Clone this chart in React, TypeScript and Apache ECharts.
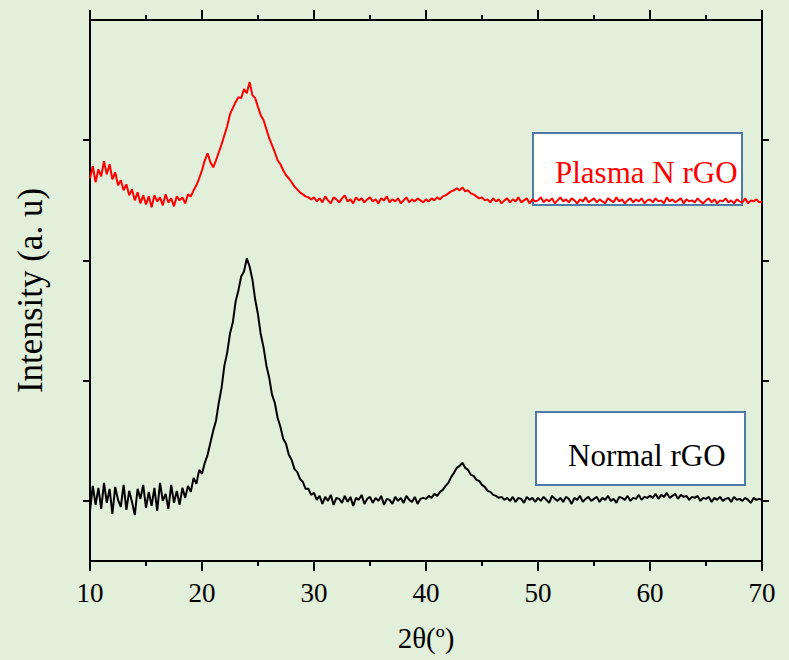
import { useEffect, useRef } from "react";
import * as echarts from "echarts";

// Diffraction scans sampled every 0.25° of 2θ, starting at 10°
const START_2THETA = 10;
const STEP_2THETA = 0.25;

// Normal rGO (counts, arbitrary units)
const normalRGO = [
  -10, 15, -4, 13, -8, 18, -2, 12, -13, 14, 1, -6, 16, -9, 10, -1, -14, 12, 2, 16,
  -7, 9, -5, 13, -10, 18, 0, 7, -8, 16, -2, 10, -4, 13, 3, 15, 9, 23, 17, 31,
  27, 38, 46, 58, 70, 80, 98, 113, 135, 148, 167, 178, 199, 210, 224, 229, 242, 234, 221, 201,
  186, 166, 153, 135, 123, 106, 98, 83, 74, 62, 57, 46, 41, 32, 29, 22, 19, 12, 12, 6,
  8, 1, 5, -3, 4, 0, 6, -4, 3, 2, -2, 5, -1, 4, -5, 3, 1, 6, -3, 2,
  4, -2, 3, 0, 5, -4, 2, 1, -3, 4, 0, 3, -2, 5, 1, -1, 4, -3, 2, 3,
  2, 5, 3, 7, 5, 9, 11, 15, 18, 24, 28, 33, 35, 38, 33, 31, 26, 25, 21, 20,
  16, 14, 10, 9, 6, 5, 3, 4, 1, 3, 0, 4, -1, 3, 2, -2, 4, 1, 3, -1,
  3, 0, 4, 1, -2, 5, 2, 0, 3, -1, 4, 2, -3, 3, 1, 5, -1, 2, 4, 0,
  2, 4, -1, 3, 1, 5, 0, 2, -2, 4, 3, 1, 5, 0, 3, 2, 6, 1, 4, 3,
  5, 3, 7, 2, 6, 4, 8, 3, 5, 7, 2, 6, 4, 5, 1, 4, 3, 5, 0, 3,
  2, 4, -1, 3, 1, 4, 0, 2, 3, -1, 4, 1, 2, 0, 3, 1, -2, 3, 1, 2,
  1,
];

// Plasma N rGO (counts, arbitrary units, stacked above the normal scan)
const plasmaNRGO = [
  322, 334, 318, 331, 324, 339, 326, 336, 321, 328, 315, 320, 310, 316, 305, 311, 300, 308, 297, 305,
  296, 304, 293, 305, 299, 303, 295, 306, 298, 302, 294, 304, 300, 303, 297, 306, 304, 310, 315, 322,
  330, 340, 347, 338, 333, 340, 348, 356, 365, 374, 386, 392, 398, 403, 402, 411, 407, 418, 405, 402,
  393, 385, 380, 371, 362, 355, 348, 340, 336, 330, 325, 322, 318, 314, 311, 308, 306, 304, 303, 301,
  303, 299, 302, 298, 304, 300, 297, 303, 301, 298, 302, 305, 299, 301, 297, 303, 300, 302, 298, 301,
  303, 299, 301, 297, 302, 300, 304, 298, 301, 299, 302, 297, 300, 303, 298, 301, 299, 302, 300, 298,
  301, 299, 302, 300, 303, 301, 304, 305, 307, 309, 310, 312, 310, 313, 309, 310, 307, 306, 304, 302,
  303, 300, 301, 298, 302, 299, 301, 297, 300, 302, 298, 301, 299, 303, 298, 300, 302, 297, 301, 299,
  300, 303, 298, 301, 299, 302, 297, 300, 303, 299, 301, 298, 302, 300, 297, 301, 299, 303, 298, 300,
  302, 298, 301, 299, 297, 302, 300, 298, 303, 299, 301, 297, 300, 302, 298, 301, 299, 302, 297, 300,
  301, 298, 302, 299, 300, 297, 303, 299, 301, 298, 300, 302, 297, 301, 299, 300, 298, 302, 299, 297,
  300, 302, 298, 301, 297, 300, 299, 302, 298, 300, 297, 301, 299, 298, 302, 297, 300, 299, 301, 298,
  299,
];

const xMin = 10;
const xMax = 70;
const xInterval = 10;
const yMin = -60;
const yMax = 480;
const yTickValues = [0, 120, 240, 360];

const FONT = '"Liberation Serif", "Times New Roman", serif';

const toPoints = (values: number[]) =>
  values.map((v, i) => [START_2THETA + i * STEP_2THETA, v]);

export default function App() {
  const ref = useRef<HTMLDivElement>(null);

  useEffect(() => {
    if (!ref.current) return;
    const chart = echarts.init(ref.current, null, { renderer: "svg" });

    const axisLine = { show: true, onZero: false, lineStyle: { color: "#000", width: 2 } };
    const majorTick = { show: true, inside: false, length: 10, lineStyle: { color: "#000", width: 2 } };
    const minorTick = { show: true, splitNumber: 2, length: 5, lineStyle: { color: "#000", width: 2 } };
    const sideTick = {
      show: true,
      inside: false,
      length: 7,
      customValues: yTickValues,
      lineStyle: { color: "#000", width: 2 },
    };

    chart.setOption({
      animation: false,
      backgroundColor: "#e2efda",
      grid: { left: 90, right: 27, top: 20, bottom: 99, containLabel: false },
      xAxis: [
        {
          type: "value",
          position: "bottom",
          min: xMin,
          max: xMax,
          interval: xInterval,
          axisLine,
          axisTick: majorTick,
          minorTick,
          splitLine: { show: false },
          axisLabel: { color: "#000", fontFamily: FONT, fontSize: 27, margin: 18 },
          name: "2θ(º)",
          nameLocation: "middle",
          nameGap: 62,
          nameTextStyle: { color: "#000", fontFamily: FONT, fontSize: 29 },
        },
        {
          type: "value",
          position: "top",
          min: xMin,
          max: xMax,
          interval: xInterval,
          axisLine,
          axisTick: majorTick,
          minorTick,
          splitLine: { show: false },
          axisLabel: { show: false },
        },
      ],
      yAxis: [
        {
          type: "value",
          position: "left",
          min: yMin,
          max: yMax,
          axisLine,
          axisTick: sideTick,
          splitLine: { show: false },
          axisLabel: { show: false },
          name: "Intensity (a. u)",
          nameLocation: "middle",
          nameGap: 42,
          nameTextStyle: { color: "#000", fontFamily: FONT, fontSize: 35 },
        },
        {
          type: "value",
          position: "right",
          min: yMin,
          max: yMax,
          axisLine,
          axisTick: sideTick,
          splitLine: { show: false },
          axisLabel: { show: false },
        },
      ],
      graphic: [
        {
          type: "rect",
          z: 0,
          shape: { x: 533, y: 133, width: 209, height: 72 },
          style: { fill: "#ffffff", stroke: "#4f79a7", lineWidth: 2 },
        },
        {
          type: "text",
          z: 1,
          x: 555,
          y: 172,
          style: {
            text: "Plasma N rGO",
            fill: "#ff0000",
            font: `31px ${FONT}`,
            verticalAlign: "middle",
            textVerticalAlign: "middle",
          },
        },
        {
          type: "rect",
          z: 0,
          shape: { x: 536, y: 412, width: 209, height: 73 },
          style: { fill: "#ffffff", stroke: "#4f79a7", lineWidth: 2 },
        },
        {
          type: "text",
          z: 1,
          x: 568,
          y: 455,
          style: {
            text: "Normal rGO",
            fill: "#000000",
            font: `31px ${FONT}`,
            verticalAlign: "middle",
            textVerticalAlign: "middle",
          },
        },
      ],
      series: [
        {
          name: "Plasma N rGO",
          type: "line",
          z: 5,
          xAxisIndex: 0,
          yAxisIndex: 0,
          data: toPoints(plasmaNRGO),
          showSymbol: false,
          lineStyle: { color: "#ff0000", width: 2 },
        },
        {
          name: "Normal rGO",
          type: "line",
          z: 5,
          xAxisIndex: 0,
          yAxisIndex: 0,
          data: toPoints(normalRGO),
          showSymbol: false,
          lineStyle: { color: "#000000", width: 2 },
        },
      ],
    });

    return () => chart.dispose();
  }, []);

  return (
    <div
      ref={ref}
      style={{ position: "absolute", left: 0, top: 0, width: 789, height: 660 }}
    />
  );
}
